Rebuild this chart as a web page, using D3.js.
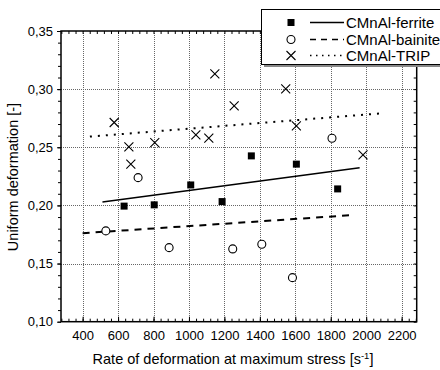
<!DOCTYPE html>
<html><head><meta charset="utf-8">
<script src="https://cdn.jsdelivr.net/npm/d3@7"></script>
<style>body{margin:0;background:#fff}svg{display:block;font-family:"Liberation Sans",Arial,sans-serif}</style>
</head><body><svg id="c" width="440" height="370"></svg>
<script>
const seriesNames = ["CMnAl-ferrite", "CMnAl-bainite", "CMnAl-TRIP"];
const ferriteX = [634, 804, 1010, 1187, 1352, 1606, 1839];
const ferriteY = [0.1994, 0.2005, 0.2176, 0.2033, 0.2426, 0.2355, 0.2142];
const bainiteX = [531, 713, 888, 1247, 1411, 1584, 1807];
const bainiteY = [0.1781, 0.2239, 0.1637, 0.1626, 0.1666, 0.1379, 0.2578];
const tripX = [578, 661, 672, 807, 1039, 1112, 1146, 1255, 1546, 1606, 1982];
const tripY = [0.2713, 0.2503, 0.2355, 0.2540, 0.2607, 0.2578, 0.3132, 0.2856, 0.3003, 0.2684, 0.2435];
const ferriteFitX = [512, 1963], ferriteFitY = [0.2030, 0.2323];
const bainiteFitX = [400, 1935], bainiteFitY = [0.1761, 0.1918];
const tripFitX = [441, 2095], tripFitY = [0.2592, 0.2793];
const xTicks = [400, 600, 800, 1000, 1200, 1400, 1600, 1800, 2000, 2200];
const yTicks = [0.10, 0.15, 0.20, 0.25, 0.30, 0.35];

const svg = d3.select("#c");
const L = 61, R = 416.7, T = 31, B = 321.7;
const x = d3.scaleLinear().domain([278, 2285]).range([L, R]);
const y = d3.scaleLinear().domain([0.10, 0.35]).range([B, T]);
const fmtY = d => d.toFixed(2).replace(".", ",");

// grid
const grid = svg.append("g").attr("stroke", "#666").attr("stroke-width", 1).attr("stroke-dasharray", "1,1");
xTicks.forEach(v => grid.append("line").attr("x1", Math.round(x(v)) + 0.5).attr("x2", Math.round(x(v)) + 0.5).attr("y1", T).attr("y2", B));
yTicks.filter(v => v > 0.10 && v < 0.35).forEach(v => grid.append("line").attr("x1", L).attr("x2", R).attr("y1", Math.round(y(v)) + 0.5).attr("y2", Math.round(y(v)) + 0.5));

// axes
const xMinor = d3.range(280, 2285, 40);
const yMinor = d3.range(0.10, 0.3501, 0.01);
svg.append("g").attr("transform", `translate(0,${B})`)
  .call(d3.axisBottom(x).tickValues(xTicks).tickSize(-5).tickPadding(9).tickFormat(d3.format("d")));
svg.append("g").attr("transform", `translate(0,${B})`).call(d3.axisBottom(x).tickValues(xMinor).tickSize(-3).tickFormat(""));
svg.append("g").attr("transform", `translate(${L},0)`)
  .call(d3.axisLeft(y).tickValues(yTicks).tickSize(4).tickPadding(4).tickFormat(fmtY));
svg.append("g").attr("transform", `translate(${L},0)`).call(d3.axisLeft(y).tickValues(yMinor).tickSize(3).tickFormat(""));
svg.append("g").attr("transform", `translate(${R},0)`).call(d3.axisRight(y).tickValues(yMinor).tickSize(-3).tickFormat(""));
svg.append("g").attr("transform", `translate(0,${T})`).call(d3.axisTop(x).tickValues(xMinor).tickSize(-3).tickFormat(""));
svg.selectAll(".domain").remove();
svg.selectAll(".tick line").attr("stroke", "#000");
svg.selectAll(".tick text").attr("font-size", 13).attr("fill", "#000").attr("font-family", "Liberation Sans, Arial, sans-serif");
svg.append("rect").attr("x", L).attr("y", T).attr("width", R - L).attr("height", B - T)
  .attr("fill", "none").attr("stroke", "#000").attr("stroke-width", 1.5);

// fit lines
const line = d3.line().x(d => x(d[0])).y(d => y(d[1]));
svg.append("path").attr("d", line(d3.zip(ferriteFitX, ferriteFitY))).attr("stroke", "#000").attr("stroke-width", 1.5).attr("fill", "none");
svg.append("path").attr("d", line(d3.zip(bainiteFitX, bainiteFitY))).attr("stroke", "#000").attr("stroke-width", 2).attr("stroke-dasharray", "7,6").attr("fill", "none");
svg.append("path").attr("d", line(d3.zip(tripFitX, tripFitY))).attr("stroke", "#000").attr("stroke-width", 2).attr("stroke-dasharray", "2,6").attr("fill", "none");

// markers
function square(g, cx, cy) { g.append("rect").attr("x", cx - 3.5).attr("y", cy - 3.5).attr("width", 7).attr("height", 7).attr("fill", "#000"); }
function circle(g, cx, cy) { g.append("circle").attr("cx", cx).attr("cy", cy).attr("r", 4).attr("fill", "#fff").attr("stroke", "#000").attr("stroke-width", 1.1); }
function cross(g, cx, cy) { g.append("path").attr("d", `M${cx-4.5},${cy-4.5}L${cx+4.5},${cy+4.5}M${cx-4.5},${cy+4.5}L${cx+4.5},${cy-4.5}`).attr("stroke", "#000").attr("stroke-width", 1.1); }
const gm = svg.append("g");
ferriteX.forEach((v, i) => square(gm, x(v), y(ferriteY[i])));
bainiteX.forEach((v, i) => circle(gm, x(v), y(bainiteY[i])));
tripX.forEach((v, i) => cross(gm, x(v), y(tripY[i])));

// axis titles
svg.append("text").attr("x", 233).attr("y", 364).attr("text-anchor", "middle").attr("font-size", 14.5)
  .html('Rate of deformation at maximum stress [s<tspan dy="-5" font-size="9.5">-1</tspan><tspan dy="5">]</tspan>');
svg.append("text").attr("transform", "translate(17.5,177) rotate(-90)").attr("text-anchor", "middle").attr("font-size", 14.5)
  .text("Uniform deformation [-]");

// legend
const lg = svg.append("g");
lg.append("rect").attr("x", 264).attr("y", 12).attr("width", 185).attr("height", 55).attr("fill", "#888");
lg.append("rect").attr("x", 261.5).attr("y", 9.5).attr("width", 185).attr("height", 55).attr("fill", "#fff").attr("stroke", "#000").attr("stroke-width", 1);
const rowsY = [22.5, 39.5, 55.5];
square(lg, 291, rowsY[0]); circle(lg, 291, rowsY[1]); cross(lg, 291, rowsY[2]);
lg.append("line").attr("x1", 310).attr("x2", 344).attr("y1", rowsY[0]).attr("y2", rowsY[0]).attr("stroke", "#000").attr("stroke-width", 1.5);
lg.append("line").attr("x1", 310).attr("x2", 344).attr("y1", rowsY[1]).attr("y2", rowsY[1]).attr("stroke", "#000").attr("stroke-width", 1.5).attr("stroke-dasharray", "6,5");
lg.append("line").attr("x1", 310).attr("x2", 344).attr("y1", rowsY[2]).attr("y2", rowsY[2]).attr("stroke", "#000").attr("stroke-width", 1.5).attr("stroke-dasharray", "1.5,4.5");
seriesNames.forEach((n, i) => lg.append("text").attr("x", 346).attr("y", rowsY[i] + 5.5).attr("font-size", 15).text(n));
</script></body></html>
